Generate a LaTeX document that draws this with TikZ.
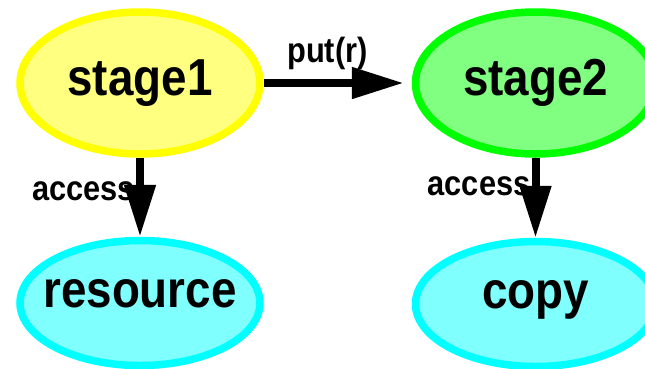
\documentclass[tikz,border=0pt]{standalone}
\usepackage{fontspec}
\setmainfont[FakeStretch=0.88]{Liberation Sans}
\usetikzlibrary{positioning,arrows.meta,shapes.geometric}
\definecolor{edgeyellow}{RGB}{255,255,0}
\definecolor{edgegreen}{RGB}{0,255,0}
\definecolor{edgecyan}{RGB}{0,255,255}
\definecolor{paleyellow}{RGB}{255,255,128}
\definecolor{palegreen}{RGB}{128,255,128}
\definecolor{palecyan}{RGB}{128,255,255}

\begin{document}
\begin{tikzpicture}[
  font=\bfseries,
  stagebox/.style={ellipse,draw,line width=7.5pt,inner xsep=-30pt,inner ysep=0pt,
                   minimum width=240pt,minimum height=142pt,
                   text height=37pt,text depth=13pt,
                   font=\fontsize{52}{60}\selectfont\bfseries},
  leafbox/.style={stagebox,minimum height=125pt,text depth=29pt,
                  draw=edgecyan,fill=palecyan},
  flow/.style={-{Triangle[length=52pt,width=30pt]},line width=8pt},
  lbl/.style={inner sep=0pt,font=\fontsize{35}{40}\selectfont\bfseries}
]
\useasboundingbox (0,0) rectangle (645pt,-368pt);

% ---- stages ----
\node[stagebox,draw=edgeyellow,fill=paleyellow] (stage1) at (140pt,-83pt) {stage1};
\node[stagebox,draw=edgegreen,fill=palegreen,right=148pt of stage1] (stage2) {stage2};

% ---- what they touch ----
\node[leafbox,below=79pt of stage1] (res) {resource};
\node[leafbox,below=80pt of stage2] (copy) {copy};

\draw[flow,shorten >=8pt] (stage1) -- node[lbl,pos=0.43,above=9pt] {put(r)} (stage2);
\draw[flow] (stage1) -- node[lbl,behind path,pos=0.42,left=1pt] {access} (res);
\draw[flow] (stage2) -- node[lbl,behind path,pos=0.36,left=1pt] {access} (copy);

\end{tikzpicture}
\end{document}
